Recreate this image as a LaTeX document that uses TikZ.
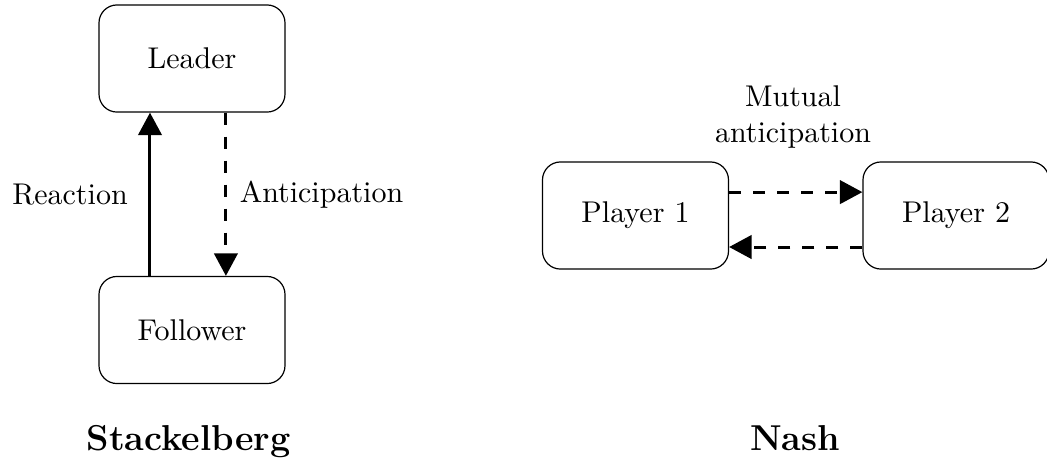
\documentclass[tikz,border=0pt]{standalone}
\usetikzlibrary{arrows.meta}
\begin{document}
\begin{tikzpicture}[x=0.3333pt,y=-0.3333pt,
  box/.style={draw,rounded corners=6pt,minimum width=62pt,minimum height=35.7pt,line width=0.4pt},
  conn/.style={line width=1pt,-{Triangle[length=7.5pt,width=7.8pt]}},
  dconn/.style={conn,dash pattern=on 4pt off 4pt},
  title/.style={font=\large\bfseries,anchor=base}]
\useasboundingbox (0,0) rectangle (1047,462);
\node[box] (leader) at (192,58.5) {Leader};
\node[box] (follower) at (192,330) {Follower};
\node[box] (p1) at (635.5,215.5) {Player 1};
\node[box] (p2) at (956,215.5) {Player 2};
\draw[conn] ([xshift=-14pt]follower.north) -- node[left=3.6pt] (reac) {Reaction} ([xshift=-14pt]leader.south);
\draw[dconn] ([xshift=11.3pt]leader.south) -- node[right=0.8pt] (anti) {Anticipation} ([xshift=11.3pt]follower.north);
\draw[dconn] ([yshift=7.8pt]p1.east) -- ([yshift=7.8pt]p2.west);
\draw[dconn] ([yshift=-10.5pt]p2.west) -- ([yshift=-10.5pt]p1.east);
\node[align=center] (mutual) at (793,117) {Mutual\\anticipation};
\node[title] (stack) at (188.5,450) {Stackelberg};
\node[title] (nash) at (795,450) {Nash};
\end{tikzpicture}
\end{document}
